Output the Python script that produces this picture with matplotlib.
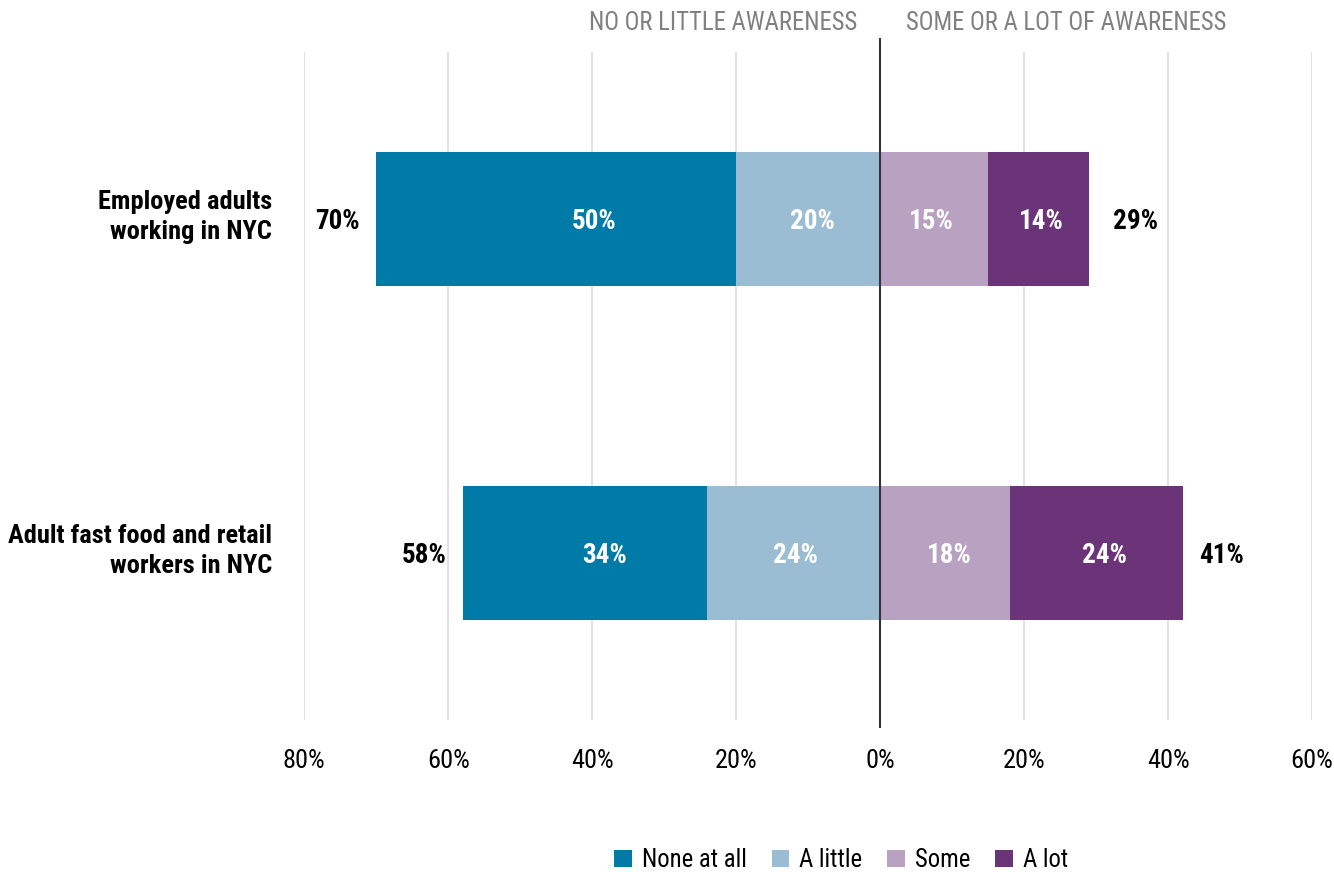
import matplotlib.pyplot as plt
from matplotlib import font_manager
import numpy as np

# Survey data: awareness levels by group (percent)
groups = ['Employed adults\nworking in NYC', 'Adult fast food and retail\nworkers in NYC']
none_at_all = [50, 34]
a_little = [20, 24]
some = [15, 18]
a_lot = [14, 24]
low_totals = [70, 58]
high_totals = [29, 41]

levels = ['None at all', 'A little', 'Some', 'A lot']
colors = ['#007ba7', '#9bbdd4', '#b8a1c1', '#6c3478']

ticks = [-80, -60, -40, -20, 0, 20, 40, 60]
tick_labels = ['80%', '60%', '40%', '20%', '0%', '20%', '40%', '60%']

# prefer a condensed face if one is around
installed = {f.name for f in font_manager.fontManager.ttflist}
candidates = ['Roboto Condensed', 'Liberation Sans Narrow', 'Arial Narrow',
              'Open Sans Condensed', 'Roboto', 'DejaVu Sans']
base = next(c for c in candidates if c in installed or c == 'DejaVu Sans')
plt.rcParams['font.family'] = [base, 'DejaVu Sans']

fig = plt.figure(figsize=(13.34, 8.72), dpi=100)
ax = fig.add_axes([0.228, 0.1743, 0.7556, 0.766])

# groups listed top to bottom
ypos = np.array([1, 0])
height = 0.4

none_arr = np.array(none_at_all)
little_arr = np.array(a_little)
some_arr = np.array(some)
lot_arr = np.array(a_lot)

# Negative side: "none" sits furthest left, "a little" next to zero
segments = [
    (-(none_arr + little_arr), none_arr, colors[0], levels[0]),
    (-little_arr, little_arr, colors[1], levels[1]),
    (np.zeros_like(some_arr), some_arr, colors[2], levels[2]),
    (some_arr, lot_arr, colors[3], levels[3]),
]
# labels in the long left segments are nudged toward zero (points)
nudge = [[27, 14], [3, 1], [-2, 3], [2, 6]]

for (left, width, color, label), shift in zip(segments, nudge):
    bars = ax.barh(ypos, width, left=left, height=height, color=color,
                   label=label, zorder=3)
    for b, w, dx in zip(bars, width, shift):
        ax.annotate(f'{w}%', (b.get_x() + b.get_width() / 2, b.get_y() + b.get_height() / 2),
                    xytext=(dx, -2), textcoords='offset points',
                    ha='center', va='center', color='white',
                    fontsize=19.5, fontweight='bold', zorder=4)

# totals outside the bars
for y, lo, hi in zip(ypos, low_totals, high_totals):
    ax.annotate(f'{lo}%', (-(lo), y), xytext=(-11.5, -2), textcoords='offset points',
                ha='right', va='center', fontsize=19.5, fontweight='bold')
    ax.annotate(f'{hi}%', (hi, y), xytext=(17, -2), textcoords='offset points',
                ha='left', va='center', fontsize=19.5, fontweight='bold')

# group names to the left of the plotting area
for y, name in zip(ypos, groups):
    ax.annotate(name, (0, y), xycoords=('axes fraction', 'data'),
                xytext=(-23, 1.5), textcoords='offset points',
                ha='right', va='center', fontsize=19, fontweight='bold',
                linespacing=1.3, annotation_clip=False)

ax.set_xlim(-80, 60)
ax.set_ylim(-0.5, 1.5)
ax.set_xticks(ticks)
ax.set_xticklabels(tick_labels, fontsize=19)
ax.set_yticks([])
ax.tick_params(axis='x', length=0, pad=21)

ax.grid(axis='x', color='#dcdcdc', linewidth=1.2, zorder=0)
for spine in ax.spines.values():
    spine.set_visible(False)

# zero line runs a bit past the gridlines
ax.plot([0, 0], [-0.0105, 1.0195], transform=ax.get_xaxis_transform(),
        color='#333333', linewidth=1.5, clip_on=False, zorder=5)

# headers above each side
ax.text(-3.2, 1.043, 'NO OR LITTLE AWARENESS', transform=ax.get_xaxis_transform(),
        ha='right', va='center', color='#808080', fontsize=17.8)
ax.text(3.6, 1.043, 'SOME OR A LOT OF AWARENESS', transform=ax.get_xaxis_transform(),
        ha='left', va='center', color='#808080', fontsize=17.8)

fig.legend(loc='center', bbox_to_anchor=(0.6305, 0.0135), ncol=4, frameon=False,
           fontsize=17.8, handlelength=0.72, handleheight=0.72, handletextpad=0.4,
           columnspacing=1.0, borderaxespad=0)

fig.savefig('out.png', dpi=100)
